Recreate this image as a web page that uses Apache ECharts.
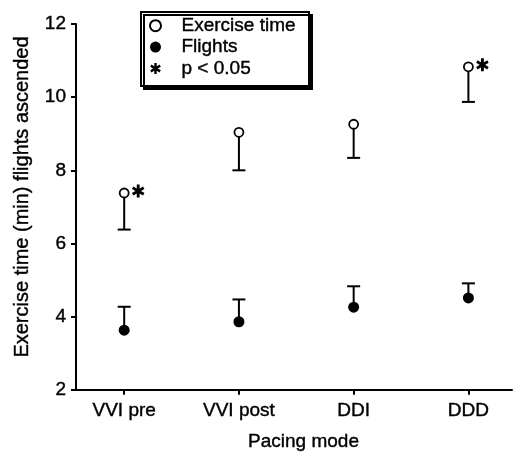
<!DOCTYPE html>
<html>
<head>
<meta charset="utf-8">
<script src="https://cdn.jsdelivr.net/npm/echarts@6/dist/echarts.min.js"></script>
<style>
  html, body { margin: 0; padding: 0; background: #fff; }
  #main { width: 513px; height: 456px; }
</style>
</head>
<body>
<div id="main"></div>
<script>
// pacing modes along the x axis
var categories = ['VVI pre', 'VVI post', 'DDI', 'DDD'];
// exercise time (open circles) and end of its lower error bar
var exerciseTime = [7.38, 9.04, 9.26, 10.83];
var exerciseLow = [6.38, 8.0, 8.34, 9.87];
// flights ascended (filled circles) and end of its upper error bar
var flights = [3.63, 3.86, 4.26, 4.51];
var flightsHigh = [4.27, 4.47, 4.83, 4.91];
// which modes are marked p < 0.05
var significant = [0, 3];
var yTicks = [2, 4, 6, 8, 10, 12];

var font = '"Liberation Sans", Arial, Helvetica, sans-serif';
var positions = categories.map(function (c, i) { return i + 1; });

// bold six-armed asterisk
var asterisk = 'path://M3.9,0 L6.1,0 L6.1,10 L3.9,10 Z ' +
    'M0.17,3.37 L1.27,1.47 L9.83,6.63 L8.73,8.53 Z ' +
    'M0.17,6.63 L8.73,1.47 L9.83,3.37 L1.27,8.53 Z';

var ink = { textBorderColor: '#000', textBorderWidth: 0.4 };

function errorBar(params, api) {
    var p0 = api.coord([api.value(0), api.value(1)]);
    var p1 = api.coord([api.value(0), api.value(2)]);
    var w = 6.5;
    var st = { stroke: '#000', lineWidth: 2 };
    return {
        type: 'group',
        children: [
            { type: 'line', shape: { x1: p0[0], y1: p0[1], x2: p1[0], y2: p1[1] }, style: st },
            { type: 'line', shape: { x1: p1[0] - w, y1: p1[1], x2: p1[0] + w, y2: p1[1] }, style: st }
        ]
    };
}

var myChart = echarts.init(document.getElementById('main'));

var option = {
    backgroundColor: '#fff',
    animation: false,
    textStyle: { fontFamily: font, color: '#000' },
    grid: { left: 76, right: 1, top: 24, bottom: 60 },
    graphic: [
        {
            type: 'rect',
            left: 140, top: 11,
            shape: { width: 168, height: 74 },
            style: { fill: '#fff', stroke: '#000', lineWidth: 2, shadowColor: '#000', shadowOffsetX: 3, shadowOffsetY: 3, shadowBlur: 0 },
            z: 5
        },
        {
            type: 'text',
            x: 22, y: 197,
            rotation: Math.PI / 2,
            style: { text: 'Exercise time (min) flights ascended', font: '20px ' + font, fill: '#000', align: 'center', verticalAlign: 'middle', stroke: '#000', lineWidth: 0.4 }
        }
    ],
    legend: {
        orient: 'vertical',
        left: 149, top: 16,
        z: 10,
        itemWidth: 12, itemHeight: 11,
        itemGap: 2,
        padding: 0,
        data: ['Exercise time', 'Flights', 'p < 0.05'],
        textStyle: Object.assign({ fontFamily: font, fontSize: 19, color: '#000', padding: [0, 0, 0, 15] }, ink)
    },
    xAxis: {
        type: 'value',
        min: 0.58, max: 4.38,
        name: 'Pacing mode',
        nameLocation: 'middle',
        nameGap: 42,
        nameTextStyle: Object.assign({ fontSize: 19, color: '#000', padding: [0, 0, 0, 19] }, ink),
        axisLine: { lineStyle: { color: '#000', width: 2 } },
        axisTick: { customValues: positions, length: 5, lineStyle: { color: '#000', width: 2 } },
        axisLabel: Object.assign({
            customValues: positions,
            fontSize: 19, color: '#000', margin: 11,
            formatter: function (v) { return categories[Math.round(v) - 1] || ''; }
        }, ink),
        splitLine: { show: false }
    },
    yAxis: {
        type: 'value',
        min: yTicks[0], max: yTicks[yTicks.length - 1], interval: 2,
        axisLine: { show: true, lineStyle: { color: '#000', width: 2 } },
        axisTick: { show: true, length: 5, lineStyle: { color: '#000', width: 2 } },
        axisLabel: Object.assign({ fontSize: 19, color: '#000', margin: 10 }, ink),
        splitLine: { show: false }
    },
    series: [
        {
            type: 'custom',
            name: 'exerciseErr',
            renderItem: errorBar,
            data: positions.map(function (x, i) { return [x, exerciseTime[i], exerciseLow[i]]; }),
            z: 1
        },
        {
            type: 'custom',
            name: 'flightsErr',
            renderItem: errorBar,
            data: positions.map(function (x, i) { return [x, flights[i], flightsHigh[i]]; }),
            z: 1
        },
        {
            type: 'scatter',
            name: 'Exercise time',
            symbol: 'circle',
            symbolSize: 9,
            itemStyle: { color: '#fff', borderColor: '#000', borderWidth: 1.8, opacity: 1 },
            data: positions.map(function (x, i) { return [x, exerciseTime[i]]; }),
            z: 3
        },
        {
            type: 'scatter',
            name: 'Flights',
            symbol: 'circle',
            symbolSize: 11,
            itemStyle: { color: '#000', opacity: 1 },
            data: positions.map(function (x, i) { return [x, flights[i]]; }),
            z: 3
        },
        {
            type: 'scatter',
            name: 'p < 0.05',
            symbol: asterisk,
            symbolKeepAspect: true,
            symbolSize: 13,
            symbolOffset: [14, -2],
            itemStyle: { color: '#000', opacity: 1 },
            data: significant.map(function (i) { return [positions[i], exerciseTime[i]]; }),
            z: 3
        }
    ]
};

myChart.setOption(option);
</script>
</body>
</html>
